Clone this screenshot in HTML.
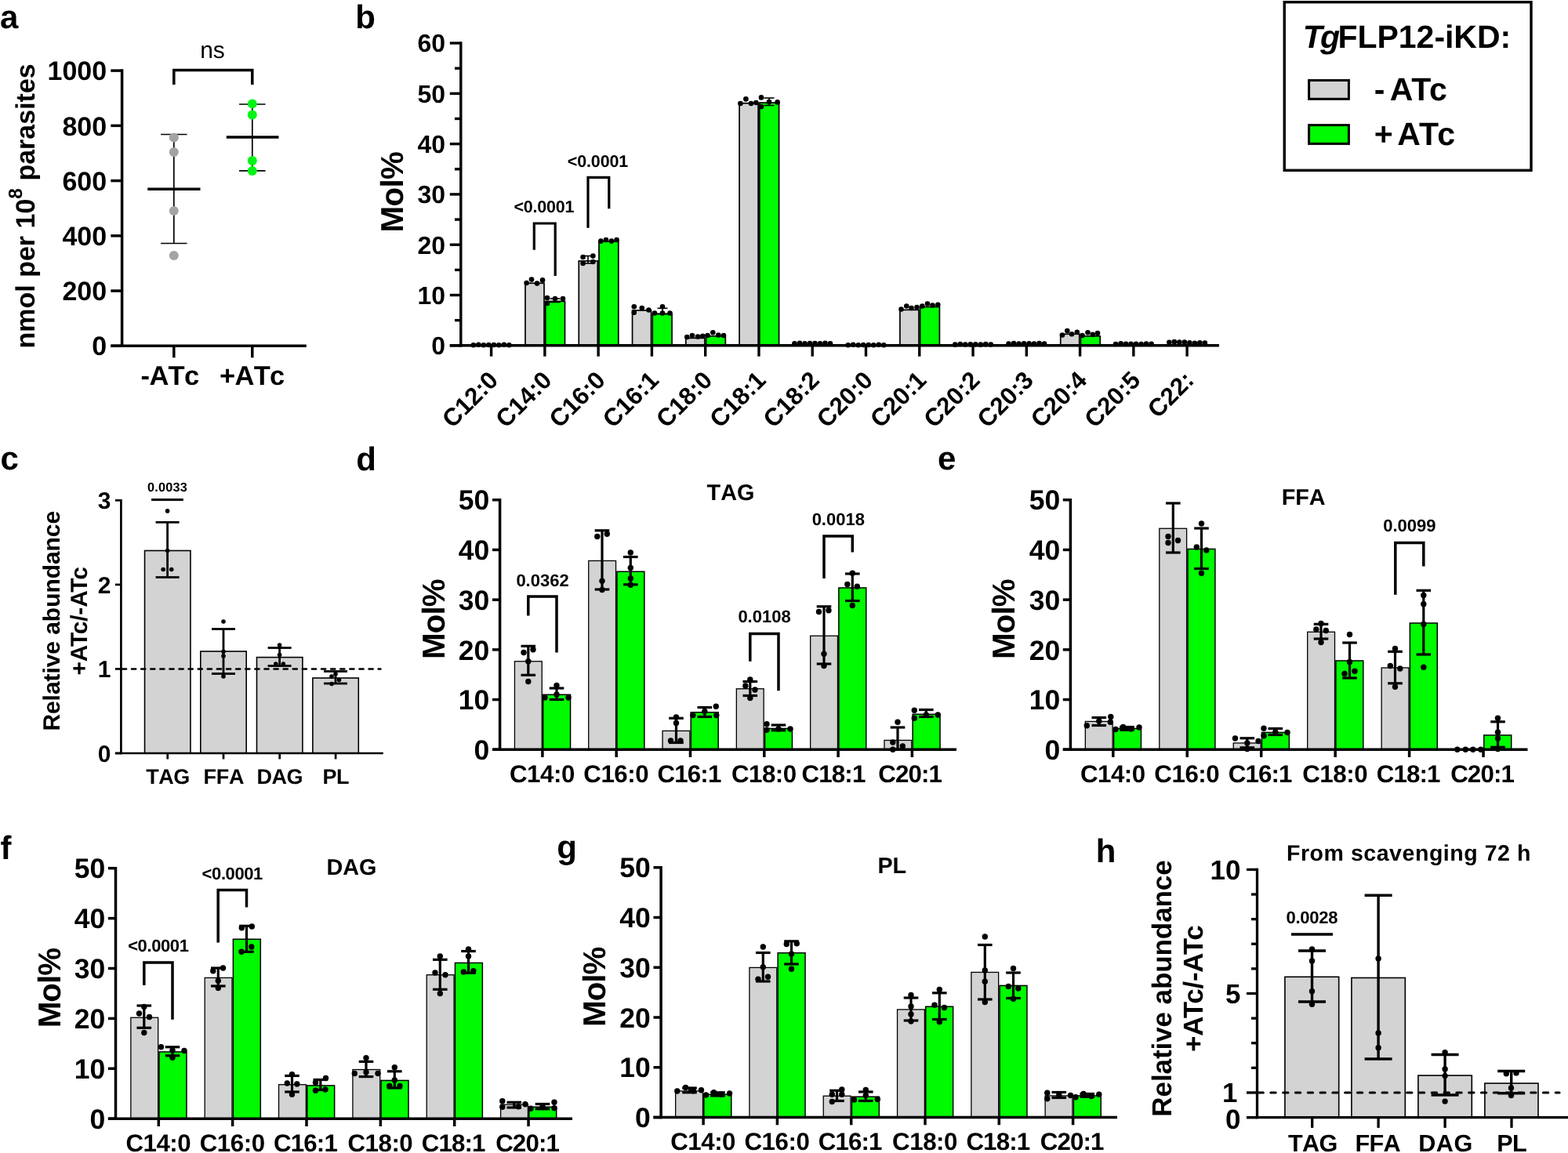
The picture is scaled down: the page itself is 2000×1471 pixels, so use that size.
<!DOCTYPE html>
<html lang="en">
<head>
<meta charset="utf-8">
<title>TgFLP12-iKD lipid analysis</title>
<style>
html,body{margin:0;padding:0;background:#fff;}
body{width:2000px;height:1471px;overflow:hidden;}
svg{display:block;}
svg text{font-family:'Liberation Sans', Arial, Helvetica, sans-serif;font-weight:bold;fill:#000;text-anchor:start;font-kerning:none;text-rendering:geometricPrecision;}
svg text.s{text-anchor:start;}
svg text.e{text-anchor:end;}
svg text.m{text-anchor:middle;}
svg text.n{font-weight:normal;}
svg text.k{font-kerning:normal;}
svg text.i{font-style:italic;}
svg line, svg path{stroke:#000;}
svg circle{stroke:none;}
</style>
</head>
<body>
<svg width="2000" height="1471" viewBox="0 0 2000 1471">
<rect x="0" y="0" width="2000" height="1471" fill="#fff" stroke="none"/>
<text x="-0.1" y="35.9" font-size="42">a</text>
<text x="453.3" y="35.9" font-size="42">b</text>
<text x="0.5" y="599.3" font-size="42">c</text>
<text x="454.3" y="599.5" font-size="42">d</text>
<text x="1195.9" y="599.2" font-size="42">e</text>
<text x="0.6" y="1096.2" font-size="42">f</text>
<text x="710.25" y="1095.3" font-size="42">g</text>
<text x="1397.75" y="1100" font-size="42">h</text>
<line x1="155.6" y1="88.35" x2="155.6" y2="443.05" stroke-width="3.5"/>
<line x1="141.3" y1="441.3" x2="390.8" y2="441.3" stroke-width="3.5"/>
<line x1="141.3" y1="441.3" x2="155.6" y2="441.3" stroke-width="3.5"/>
<line x1="141.3" y1="371.06" x2="155.6" y2="371.06" stroke-width="3.5"/>
<line x1="141.3" y1="300.82" x2="155.6" y2="300.82" stroke-width="3.5"/>
<line x1="141.3" y1="230.58" x2="155.6" y2="230.58" stroke-width="3.5"/>
<line x1="141.3" y1="160.34" x2="155.6" y2="160.34" stroke-width="3.5"/>
<line x1="141.3" y1="90.1" x2="155.6" y2="90.1" stroke-width="3.5"/>
<text x="117.2" y="453.47" font-size="34">0</text>
<text x="79.38" y="383.23" font-size="34">200</text>
<text x="79.38" y="312.99" font-size="34">400</text>
<text x="79.38" y="242.75" font-size="34">600</text>
<text x="79.38" y="172.51" font-size="34">800</text>
<text x="60.47" y="102.27" font-size="34">1000</text>
<line x1="221.8" y1="441.3" x2="221.8" y2="456.3" stroke-width="3.5"/>
<line x1="321.8" y1="441.3" x2="321.8" y2="456.3" stroke-width="3.5"/>
<text x="179.6" y="491" font-size="34.5" letter-spacing="-0.69">-ATc</text>
<text x="280" y="491" font-size="34.5" letter-spacing="-0.68">+ATc</text>
<text x="44" y="444.5" font-size="34" transform="rotate(-90 44 444.5)">nmol per 10<tspan font-size="24.5" dy="-15.8">8</tspan><tspan dy="15.8"> parasites</tspan></text>
<path d="M221.8 108 V89.5 H321.8 V108" fill="none" stroke-width="3.5"/>
<text x="255.16" y="73.8" font-size="30" class="n">ns</text>
<line x1="221.8" y1="171.5" x2="221.8" y2="310.5" stroke-width="1.7"/>
<line x1="205.05" y1="171.5" x2="238.55" y2="171.5" stroke-width="1.7"/>
<line x1="205.05" y1="310.5" x2="238.55" y2="310.5" stroke-width="1.7"/>
<line x1="188.3" y1="241.3" x2="255.5" y2="241.3" stroke-width="3.5"/>
<circle cx="221.8" cy="175.5" r="6" fill="#a3a3a6"/>
<circle cx="221.8" cy="194" r="6" fill="#a3a3a6"/>
<circle cx="221.8" cy="269" r="6" fill="#a3a3a6"/>
<circle cx="221.8" cy="326" r="6" fill="#a3a3a6"/>
<line x1="321.8" y1="133" x2="321.8" y2="217.8" stroke-width="1.7"/>
<line x1="305.05" y1="133" x2="338.55" y2="133" stroke-width="1.7"/>
<line x1="305.05" y1="217.8" x2="338.55" y2="217.8" stroke-width="1.7"/>
<line x1="288.8" y1="175" x2="355.5" y2="175" stroke-width="3.5"/>
<circle cx="321.8" cy="132.5" r="6" fill="#00f514"/>
<circle cx="321.8" cy="146.5" r="6" fill="#00f514"/>
<circle cx="321.8" cy="205" r="6" fill="#00f514"/>
<circle cx="321.8" cy="218" r="6" fill="#00f514"/>
<rect x="670.02" y="361.28" width="24" height="79.53" fill="#d3d3d3" stroke="#000" stroke-width="1.7"/>
<rect x="695.72" y="384.42" width="24.8" height="56.38" fill="#00fa00" stroke="#000" stroke-width="1.7"/>
<rect x="738.29" y="332.98" width="24" height="107.82" fill="#d3d3d3" stroke="#000" stroke-width="1.7"/>
<rect x="763.99" y="307.91" width="24.8" height="132.89" fill="#00fa00" stroke="#000" stroke-width="1.7"/>
<rect x="806.56" y="396" width="24" height="44.8" fill="#d3d3d3" stroke="#000" stroke-width="1.7"/>
<rect x="832.26" y="400.5" width="24.8" height="40.3" fill="#00fa00" stroke="#000" stroke-width="1.7"/>
<rect x="874.83" y="431.36" width="24" height="9.44" fill="#d3d3d3" stroke="#000" stroke-width="1.7"/>
<rect x="900.53" y="428.79" width="24.8" height="12.01" fill="#00fa00" stroke="#000" stroke-width="1.7"/>
<rect x="943.1" y="131.72" width="24" height="309.08" fill="#d3d3d3" stroke="#000" stroke-width="1.7"/>
<rect x="968.8" y="131.08" width="24.8" height="309.72" fill="#00fa00" stroke="#000" stroke-width="1.7"/>
<rect x="1147.91" y="395.35" width="24" height="45.45" fill="#d3d3d3" stroke="#000" stroke-width="1.7"/>
<rect x="1173.61" y="391.5" width="24.8" height="49.3" fill="#00fa00" stroke="#000" stroke-width="1.7"/>
<rect x="1352.72" y="426.22" width="24" height="14.58" fill="#d3d3d3" stroke="#000" stroke-width="1.7"/>
<rect x="1378.42" y="428.79" width="24.8" height="12.01" fill="#00fa00" stroke="#000" stroke-width="1.7"/>
<line x1="587.8" y1="53.3" x2="587.8" y2="442.5" stroke-width="3.4"/>
<line x1="573.8" y1="440.8" x2="1555" y2="440.8" stroke-width="3.4"/>
<line x1="573.8" y1="440.8" x2="587.8" y2="440.8" stroke-width="3.4"/>
<line x1="573.8" y1="376.5" x2="587.8" y2="376.5" stroke-width="3.4"/>
<line x1="573.8" y1="312.2" x2="587.8" y2="312.2" stroke-width="3.4"/>
<line x1="573.8" y1="247.9" x2="587.8" y2="247.9" stroke-width="3.4"/>
<line x1="573.8" y1="183.6" x2="587.8" y2="183.6" stroke-width="3.4"/>
<line x1="573.8" y1="119.3" x2="587.8" y2="119.3" stroke-width="3.4"/>
<line x1="573.8" y1="55" x2="587.8" y2="55" stroke-width="3.4"/>
<line x1="580" y1="408.65" x2="587.8" y2="408.65" stroke-width="3.4"/>
<line x1="580" y1="344.35" x2="587.8" y2="344.35" stroke-width="3.4"/>
<line x1="580" y1="280.05" x2="587.8" y2="280.05" stroke-width="3.4"/>
<line x1="580" y1="215.75" x2="587.8" y2="215.75" stroke-width="3.4"/>
<line x1="580" y1="151.45" x2="587.8" y2="151.45" stroke-width="3.4"/>
<line x1="580" y1="87.15" x2="587.8" y2="87.15" stroke-width="3.4"/>
<text x="550.3" y="452.26" font-size="32">0</text>
<text x="532.5" y="387.96" font-size="32">10</text>
<text x="532.5" y="323.66" font-size="32">20</text>
<text x="532.5" y="259.36" font-size="32">30</text>
<text x="532.5" y="195.06" font-size="32">40</text>
<text x="532.5" y="130.76" font-size="32">50</text>
<text x="532.5" y="66.46" font-size="32">60</text>
<text x="514" y="296.4" font-size="40.4" letter-spacing="-0.71" transform="rotate(-90 514 296.4)">Mol%</text>
<line x1="626.6" y1="440.8" x2="626.6" y2="454.7" stroke-width="3.4"/>
<text x="637.2" y="486.9" font-size="31.3" class="e" transform="rotate(-45 637.2 486.9)">C12:0</text>
<line x1="694.87" y1="440.8" x2="694.87" y2="454.7" stroke-width="3.4"/>
<text x="705.47" y="486.9" font-size="31.3" class="e" transform="rotate(-45 705.47 486.9)">C14:0</text>
<line x1="763.14" y1="440.8" x2="763.14" y2="454.7" stroke-width="3.4"/>
<text x="773.74" y="486.9" font-size="31.3" class="e" transform="rotate(-45 773.74 486.9)">C16:0</text>
<line x1="831.41" y1="440.8" x2="831.41" y2="454.7" stroke-width="3.4"/>
<text x="842.01" y="486.9" font-size="31.3" class="e" transform="rotate(-45 842.01 486.9)">C16:1</text>
<line x1="899.68" y1="440.8" x2="899.68" y2="454.7" stroke-width="3.4"/>
<text x="910.28" y="486.9" font-size="31.3" class="e" transform="rotate(-45 910.28 486.9)">C18:0</text>
<line x1="967.95" y1="440.8" x2="967.95" y2="454.7" stroke-width="3.4"/>
<text x="978.55" y="486.9" font-size="31.3" class="e" transform="rotate(-45 978.55 486.9)">C18:1</text>
<line x1="1036.22" y1="440.8" x2="1036.22" y2="454.7" stroke-width="3.4"/>
<text x="1046.82" y="486.9" font-size="31.3" class="e" transform="rotate(-45 1046.82 486.9)">C18:2</text>
<line x1="1104.49" y1="440.8" x2="1104.49" y2="454.7" stroke-width="3.4"/>
<text x="1115.09" y="486.9" font-size="31.3" class="e" transform="rotate(-45 1115.09 486.9)">C20:0</text>
<line x1="1172.76" y1="440.8" x2="1172.76" y2="454.7" stroke-width="3.4"/>
<text x="1183.36" y="486.9" font-size="31.3" class="e" transform="rotate(-45 1183.36 486.9)">C20:1</text>
<line x1="1241.03" y1="440.8" x2="1241.03" y2="454.7" stroke-width="3.4"/>
<text x="1251.63" y="486.9" font-size="31.3" class="e" transform="rotate(-45 1251.63 486.9)">C20:2</text>
<line x1="1309.3" y1="440.8" x2="1309.3" y2="454.7" stroke-width="3.4"/>
<text x="1319.9" y="486.9" font-size="31.3" class="e" transform="rotate(-45 1319.9 486.9)">C20:3</text>
<line x1="1377.57" y1="440.8" x2="1377.57" y2="454.7" stroke-width="3.4"/>
<text x="1388.17" y="486.9" font-size="31.3" class="e" transform="rotate(-45 1388.17 486.9)">C20:4</text>
<line x1="1445.84" y1="440.8" x2="1445.84" y2="454.7" stroke-width="3.4"/>
<text x="1456.44" y="486.9" font-size="31.3" class="e" transform="rotate(-45 1456.44 486.9)">C20:5</text>
<line x1="1514.11" y1="440.8" x2="1514.11" y2="454.7" stroke-width="3.4"/>
<text x="1524.71" y="486.9" font-size="31.3" class="e" transform="rotate(-45 1524.71 486.9)">C22:</text>
<circle cx="603.85" cy="440.28" r="3.3" fill="#000"/>
<circle cx="629.85" cy="439.98" r="3.3" fill="#000"/>
<circle cx="610.35" cy="439.68" r="3.3" fill="#000"/>
<circle cx="636.35" cy="440.28" r="3.3" fill="#000"/>
<circle cx="616.85" cy="440.18" r="3.3" fill="#000"/>
<circle cx="642.85" cy="439.78" r="3.3" fill="#000"/>
<circle cx="623.35" cy="439.98" r="3.3" fill="#000"/>
<circle cx="649.35" cy="440.18" r="3.3" fill="#000"/>
<circle cx="671.6" cy="361" r="3.3" fill="#000"/>
<circle cx="678" cy="356.6" r="3.3" fill="#000"/>
<circle cx="685" cy="361.6" r="3.3" fill="#000"/>
<circle cx="692" cy="357.4" r="3.3" fill="#000"/>
<circle cx="698" cy="380" r="3.3" fill="#000"/>
<circle cx="698" cy="387" r="3.3" fill="#000"/>
<circle cx="708" cy="381" r="3.3" fill="#000"/>
<circle cx="718" cy="381" r="3.3" fill="#000"/>
<circle cx="743.6" cy="328" r="3.3" fill="#000"/>
<circle cx="743.6" cy="336" r="3.3" fill="#000"/>
<circle cx="756.4" cy="326.6" r="3.3" fill="#000"/>
<circle cx="756.4" cy="334" r="3.3" fill="#000"/>
<circle cx="766.4" cy="307.6" r="3.3" fill="#000"/>
<circle cx="773" cy="306" r="3.3" fill="#000"/>
<circle cx="780" cy="307.6" r="3.3" fill="#000"/>
<circle cx="786.6" cy="306" r="3.3" fill="#000"/>
<circle cx="808.8" cy="391.3" r="3.3" fill="#000"/>
<circle cx="808.8" cy="398.8" r="3.3" fill="#000"/>
<circle cx="818.8" cy="393" r="3.3" fill="#000"/>
<circle cx="827.5" cy="395.5" r="3.3" fill="#000"/>
<circle cx="835" cy="399.5" r="3.3" fill="#000"/>
<circle cx="845" cy="391.3" r="3.3" fill="#000"/>
<circle cx="845" cy="399.5" r="3.3" fill="#000"/>
<circle cx="854.5" cy="399.5" r="3.3" fill="#000"/>
<circle cx="876.3" cy="430" r="3.3" fill="#000"/>
<circle cx="883" cy="428" r="3.3" fill="#000"/>
<circle cx="890" cy="429.5" r="3.3" fill="#000"/>
<circle cx="896.3" cy="428.8" r="3.3" fill="#000"/>
<circle cx="902.5" cy="428" r="3.3" fill="#000"/>
<circle cx="909.3" cy="424.3" r="3.3" fill="#000"/>
<circle cx="916.3" cy="427.5" r="3.3" fill="#000"/>
<circle cx="923" cy="428" r="3.3" fill="#000"/>
<circle cx="944.4" cy="132" r="3.3" fill="#000"/>
<circle cx="951.4" cy="126.4" r="3.3" fill="#000"/>
<circle cx="958" cy="132" r="3.3" fill="#000"/>
<circle cx="964.4" cy="131" r="3.3" fill="#000"/>
<circle cx="971" cy="124.4" r="3.3" fill="#000"/>
<circle cx="971" cy="136" r="3.3" fill="#000"/>
<circle cx="981" cy="130" r="3.3" fill="#000"/>
<circle cx="991.6" cy="130.4" r="3.3" fill="#000"/>
<circle cx="1013.47" cy="438.35" r="3.3" fill="#000"/>
<circle cx="1039.47" cy="438.05" r="3.3" fill="#000"/>
<circle cx="1019.97" cy="437.75" r="3.3" fill="#000"/>
<circle cx="1045.97" cy="438.35" r="3.3" fill="#000"/>
<circle cx="1026.47" cy="438.25" r="3.3" fill="#000"/>
<circle cx="1052.47" cy="437.85" r="3.3" fill="#000"/>
<circle cx="1032.97" cy="438.05" r="3.3" fill="#000"/>
<circle cx="1058.97" cy="438.25" r="3.3" fill="#000"/>
<circle cx="1081.74" cy="440.28" r="3.3" fill="#000"/>
<circle cx="1107.74" cy="439.98" r="3.3" fill="#000"/>
<circle cx="1088.24" cy="439.68" r="3.3" fill="#000"/>
<circle cx="1114.24" cy="440.28" r="3.3" fill="#000"/>
<circle cx="1094.74" cy="440.18" r="3.3" fill="#000"/>
<circle cx="1120.74" cy="439.78" r="3.3" fill="#000"/>
<circle cx="1101.24" cy="439.98" r="3.3" fill="#000"/>
<circle cx="1127.24" cy="440.18" r="3.3" fill="#000"/>
<circle cx="1149.5" cy="394.5" r="3.3" fill="#000"/>
<circle cx="1156.3" cy="390.5" r="3.3" fill="#000"/>
<circle cx="1162.5" cy="393" r="3.3" fill="#000"/>
<circle cx="1169.5" cy="392" r="3.3" fill="#000"/>
<circle cx="1176.3" cy="390.5" r="3.3" fill="#000"/>
<circle cx="1183" cy="387.5" r="3.3" fill="#000"/>
<circle cx="1189.5" cy="389.5" r="3.3" fill="#000"/>
<circle cx="1196.3" cy="388.8" r="3.3" fill="#000"/>
<circle cx="1218.28" cy="439.64" r="3.3" fill="#000"/>
<circle cx="1244.28" cy="439.34" r="3.3" fill="#000"/>
<circle cx="1224.78" cy="439.04" r="3.3" fill="#000"/>
<circle cx="1250.78" cy="439.64" r="3.3" fill="#000"/>
<circle cx="1231.28" cy="439.54" r="3.3" fill="#000"/>
<circle cx="1257.28" cy="439.14" r="3.3" fill="#000"/>
<circle cx="1237.78" cy="439.34" r="3.3" fill="#000"/>
<circle cx="1263.78" cy="439.54" r="3.3" fill="#000"/>
<circle cx="1286.55" cy="438.67" r="3.3" fill="#000"/>
<circle cx="1312.55" cy="438.37" r="3.3" fill="#000"/>
<circle cx="1293.05" cy="438.07" r="3.3" fill="#000"/>
<circle cx="1319.05" cy="438.67" r="3.3" fill="#000"/>
<circle cx="1299.55" cy="438.57" r="3.3" fill="#000"/>
<circle cx="1325.55" cy="438.17" r="3.3" fill="#000"/>
<circle cx="1306.05" cy="438.37" r="3.3" fill="#000"/>
<circle cx="1332.05" cy="438.57" r="3.3" fill="#000"/>
<circle cx="1355" cy="427.5" r="3.3" fill="#000"/>
<circle cx="1361.3" cy="422" r="3.3" fill="#000"/>
<circle cx="1367" cy="426.3" r="3.3" fill="#000"/>
<circle cx="1373.8" cy="423.8" r="3.3" fill="#000"/>
<circle cx="1380.5" cy="428" r="3.3" fill="#000"/>
<circle cx="1387.5" cy="424.3" r="3.3" fill="#000"/>
<circle cx="1393.8" cy="426.8" r="3.3" fill="#000"/>
<circle cx="1400" cy="425" r="3.3" fill="#000"/>
<circle cx="1423.09" cy="438.99" r="3.3" fill="#000"/>
<circle cx="1449.09" cy="438.69" r="3.3" fill="#000"/>
<circle cx="1429.59" cy="438.39" r="3.3" fill="#000"/>
<circle cx="1455.59" cy="438.99" r="3.3" fill="#000"/>
<circle cx="1436.09" cy="438.89" r="3.3" fill="#000"/>
<circle cx="1462.09" cy="438.49" r="3.3" fill="#000"/>
<circle cx="1442.59" cy="438.69" r="3.3" fill="#000"/>
<circle cx="1468.59" cy="438.89" r="3.3" fill="#000"/>
<circle cx="1491.36" cy="436.74" r="3.3" fill="#000"/>
<circle cx="1517.36" cy="437.41" r="3.3" fill="#000"/>
<circle cx="1497.86" cy="436.14" r="3.3" fill="#000"/>
<circle cx="1523.86" cy="437.71" r="3.3" fill="#000"/>
<circle cx="1504.36" cy="436.64" r="3.3" fill="#000"/>
<circle cx="1530.36" cy="437.21" r="3.3" fill="#000"/>
<circle cx="1510.86" cy="436.44" r="3.3" fill="#000"/>
<circle cx="1536.86" cy="437.61" r="3.3" fill="#000"/>
<line x1="750" y1="326.5" x2="750" y2="336" stroke-width="1.6"/>
<line x1="743.5" y1="326.5" x2="756.5" y2="326.5" stroke-width="1.6"/>
<line x1="743.5" y1="336" x2="756.5" y2="336" stroke-width="1.6"/>
<line x1="981" y1="125" x2="981" y2="134.5" stroke-width="1.6"/>
<line x1="974.5" y1="125" x2="987.5" y2="125" stroke-width="1.6"/>
<line x1="974.5" y1="134.5" x2="987.5" y2="134.5" stroke-width="1.6"/>
<line x1="845" y1="393.3" x2="845" y2="400.5" stroke-width="1.6"/>
<line x1="838.5" y1="393.3" x2="851.5" y2="393.3" stroke-width="1.6"/>
<line x1="838.5" y1="400.5" x2="851.5" y2="400.5" stroke-width="1.6"/>
<line x1="708" y1="381" x2="708" y2="385.5" stroke-width="1.6"/>
<line x1="701.5" y1="381" x2="714.5" y2="381" stroke-width="1.6"/>
<line x1="701.5" y1="385.5" x2="714.5" y2="385.5" stroke-width="1.6"/>
<path d="M681.3 318.8 V285 H708.2 V352" fill="none" stroke-width="3.2"/>
<text x="655.5" y="271.3" font-size="21.5" letter-spacing="-0.23">&lt;0.0001</text>
<path d="M750 290.8 V226.3 H776.8 V266.3" fill="none" stroke-width="3.2"/>
<text x="723.8" y="212.5" font-size="21.5" letter-spacing="-0.14">&lt;0.0001</text>
<rect x="1638.25" y="2.7" width="314.75" height="214.6" fill="#fff" stroke="#000" stroke-width="3.4"/>
<text x="1661.75" y="61.3" font-size="41" class="i">T</text>
<text x="1684.1" y="61.3" font-size="41" class="i">g</text>
<text x="1706.5" y="61.3" font-size="41" class="k" letter-spacing="-0.03">FLP12-iKD:</text>
<rect x="1669.6" y="102.5" width="50.8" height="23.8" fill="#d3d3d3" stroke="#000" stroke-width="3"/>
<rect x="1669.6" y="159.6" width="50.8" height="23.8" fill="#00fa00" stroke="#000" stroke-width="3"/>
<text x="1752.75" y="127.8" font-size="41">-</text>
<text x="1772.75" y="127.8" font-size="41" class="k" letter-spacing="0.84">ATc</text>
<text x="1752.75" y="185" font-size="41">+</text>
<text x="1782.2" y="185" font-size="41" class="k" letter-spacing="1.24">ATc</text>
<rect x="184.55" y="702.5" width="58.4" height="258.5" fill="#d3d3d3" stroke="#000" stroke-width="1.6"/>
<rect x="255.8" y="831" width="58.4" height="130" fill="#d3d3d3" stroke="#000" stroke-width="1.6"/>
<rect x="327.5" y="838.6" width="58.4" height="122.4" fill="#d3d3d3" stroke="#000" stroke-width="1.6"/>
<rect x="398.9" y="865" width="58.4" height="96" fill="#d3d3d3" stroke="#000" stroke-width="1.6"/>
<line x1="154.4" y1="637" x2="154.4" y2="962.35" stroke-width="2.7"/>
<line x1="146.9" y1="961" x2="154.4" y2="961" stroke-width="2.7"/>
<line x1="146.9" y1="853.45" x2="154.4" y2="853.45" stroke-width="2.7"/>
<line x1="146.9" y1="745.9" x2="154.4" y2="745.9" stroke-width="2.7"/>
<line x1="146.9" y1="638.35" x2="154.4" y2="638.35" stroke-width="2.7"/>
<text x="124.7" y="971.74" font-size="30">0</text>
<text x="124.7" y="864.19" font-size="30">1</text>
<text x="124.7" y="756.64" font-size="30">2</text>
<text x="124.7" y="649.09" font-size="30">3</text>
<line x1="146.9" y1="961" x2="488.8" y2="961" stroke-width="2.7"/>
<line x1="213.75" y1="961" x2="213.75" y2="968.5" stroke-width="2.7"/>
<line x1="285" y1="961" x2="285" y2="968.5" stroke-width="2.7"/>
<line x1="356.7" y1="961" x2="356.7" y2="968.5" stroke-width="2.7"/>
<line x1="428.1" y1="961" x2="428.1" y2="968.5" stroke-width="2.7"/>
<text x="186.25" y="1000" font-size="27" letter-spacing="-0.5">TAG</text>
<text x="259.6" y="1000" font-size="27" letter-spacing="-0.29">FFA</text>
<text x="327.5" y="1000" font-size="27" letter-spacing="-0.45">DAG</text>
<text x="411.5" y="1000" font-size="27" letter-spacing="-0.51">PL</text>
<line x1="155.9" y1="853.45" x2="485.5" y2="853.45" stroke-width="2.5" stroke-dasharray="5.2 6.9" stroke-linecap="round"/>
<line x1="213.6" y1="666.3" x2="213.6" y2="736.5" stroke-width="2.8"/>
<line x1="198.6" y1="666.3" x2="228.6" y2="666.3" stroke-width="2.8"/>
<line x1="198.6" y1="736.5" x2="228.6" y2="736.5" stroke-width="2.8"/>
<line x1="285" y1="802.5" x2="285" y2="859.5" stroke-width="2.8"/>
<line x1="270" y1="802.5" x2="300" y2="802.5" stroke-width="2.8"/>
<line x1="270" y1="859.5" x2="300" y2="859.5" stroke-width="2.8"/>
<line x1="356.6" y1="826.5" x2="356.6" y2="849.5" stroke-width="2.8"/>
<line x1="341.6" y1="826.5" x2="371.6" y2="826.5" stroke-width="2.8"/>
<line x1="341.6" y1="849.5" x2="371.6" y2="849.5" stroke-width="2.8"/>
<line x1="428" y1="856.5" x2="428" y2="872" stroke-width="2.8"/>
<line x1="413" y1="856.5" x2="443" y2="856.5" stroke-width="2.8"/>
<line x1="413" y1="872" x2="443" y2="872" stroke-width="2.8"/>
<circle cx="213.6" cy="651.9" r="2.8" fill="#000"/>
<circle cx="213.6" cy="702.5" r="2.8" fill="#000"/>
<circle cx="208.2" cy="726.5" r="2.8" fill="#000"/>
<circle cx="218.7" cy="726.5" r="2.8" fill="#000"/>
<circle cx="285" cy="793" r="2.8" fill="#000"/>
<circle cx="285" cy="831.3" r="2.8" fill="#000"/>
<circle cx="285" cy="837" r="2.8" fill="#000"/>
<circle cx="285" cy="863" r="2.8" fill="#000"/>
<circle cx="356.6" cy="823" r="2.8" fill="#000"/>
<circle cx="356.6" cy="835.5" r="2.8" fill="#000"/>
<circle cx="351.8" cy="847" r="2.8" fill="#000"/>
<circle cx="361.3" cy="847" r="2.8" fill="#000"/>
<circle cx="423" cy="863" r="2.8" fill="#000"/>
<circle cx="432.5" cy="867.5" r="2.8" fill="#000"/>
<circle cx="423" cy="872.5" r="2.8" fill="#000"/>
<circle cx="428" cy="860" r="2.8" fill="#000"/>
<line x1="193.1" y1="637.5" x2="233.8" y2="637.5" stroke-width="3"/>
<text x="188.1" y="627" font-size="16.3" letter-spacing="0.18">0.0033</text>
<text x="76.4" y="932.6" font-size="30" class="k" letter-spacing="-0.06" transform="rotate(-90 76.4 932.6)">Relative abundance</text>
<text x="111.3" y="861.6" font-size="30" class="k" letter-spacing="-0.22" transform="rotate(-90 111.3 861.6)">+ATc/-ATc</text>
<rect x="656.45" y="843.75" width="34.8" height="112.5" fill="#d3d3d3" stroke="#000" stroke-width="1.3"/>
<rect x="692.65" y="886.25" width="34.9" height="70" fill="#00fa00" stroke="#000" stroke-width="1.5"/>
<rect x="750.75" y="715.45" width="34.8" height="240.8" fill="#d3d3d3" stroke="#000" stroke-width="1.3"/>
<rect x="786.95" y="729.25" width="34.9" height="227" fill="#00fa00" stroke="#000" stroke-width="1.5"/>
<rect x="845.05" y="932.45" width="34.8" height="23.8" fill="#d3d3d3" stroke="#000" stroke-width="1.3"/>
<rect x="881.25" y="908.75" width="34.9" height="47.5" fill="#00fa00" stroke="#000" stroke-width="1.5"/>
<rect x="939.35" y="878.75" width="34.8" height="77.5" fill="#d3d3d3" stroke="#000" stroke-width="1.3"/>
<rect x="975.55" y="929.45" width="34.9" height="26.8" fill="#00fa00" stroke="#000" stroke-width="1.5"/>
<rect x="1033.65" y="811.25" width="34.8" height="145" fill="#d3d3d3" stroke="#000" stroke-width="1.3"/>
<rect x="1069.85" y="749.95" width="34.9" height="206.3" fill="#00fa00" stroke="#000" stroke-width="1.5"/>
<rect x="1127.95" y="944.45" width="34.8" height="11.8" fill="#d3d3d3" stroke="#000" stroke-width="1.3"/>
<rect x="1164.15" y="911.25" width="34.9" height="45" fill="#00fa00" stroke="#000" stroke-width="1.5"/>
<line x1="637.6" y1="636" x2="637.6" y2="958" stroke-width="3.5"/>
<line x1="628" y1="956.25" x2="1220" y2="956.25" stroke-width="3.5"/>
<line x1="628" y1="956.25" x2="637.6" y2="956.25" stroke-width="3.5"/>
<line x1="628" y1="892.55" x2="637.6" y2="892.55" stroke-width="3.5"/>
<line x1="628" y1="828.85" x2="637.6" y2="828.85" stroke-width="3.5"/>
<line x1="628" y1="765.15" x2="637.6" y2="765.15" stroke-width="3.5"/>
<line x1="628" y1="701.45" x2="637.6" y2="701.45" stroke-width="3.5"/>
<line x1="628" y1="637.75" x2="637.6" y2="637.75" stroke-width="3.5"/>
<text x="604.6" y="968.96" font-size="35.5">0</text>
<text x="584.86" y="905.26" font-size="35.5">10</text>
<text x="584.86" y="841.56" font-size="35.5">20</text>
<text x="584.86" y="777.86" font-size="35.5">30</text>
<text x="584.86" y="714.16" font-size="35.5">40</text>
<text x="584.86" y="650.46" font-size="35.5">50</text>
<text x="566.7" y="840.9" font-size="40.4" letter-spacing="-0.98" transform="rotate(-90 566.7 840.9)">Mol%</text>
<line x1="691.9" y1="956.25" x2="691.9" y2="966.05" stroke-width="3.5"/>
<text x="650" y="998.15" font-size="31.3" letter-spacing="-0.48">C14:0</text>
<line x1="786.2" y1="956.25" x2="786.2" y2="966.05" stroke-width="3.5"/>
<text x="744.3" y="998.15" font-size="31.3" letter-spacing="-0.48">C16:0</text>
<line x1="880.5" y1="956.25" x2="880.5" y2="966.05" stroke-width="3.5"/>
<text x="838.6" y="998.15" font-size="31.3" letter-spacing="-0.88">C16:1</text>
<line x1="974.8" y1="956.25" x2="974.8" y2="966.05" stroke-width="3.5"/>
<text x="932.9" y="998.15" font-size="31.3" letter-spacing="-0.48">C18:0</text>
<line x1="1069.1" y1="956.25" x2="1069.1" y2="966.05" stroke-width="3.5"/>
<text x="1022.6" y="998.15" font-size="31.3" letter-spacing="-0.88">C18:1</text>
<line x1="1163.4" y1="956.25" x2="1163.4" y2="966.05" stroke-width="3.5"/>
<text x="1120.3" y="998.15" font-size="31.3" letter-spacing="-0.88">C20:1</text>
<text x="901.56" y="637.9" font-size="28.8">TAG</text>
<line x1="673.8" y1="824.3" x2="673.8" y2="861.3" stroke-width="3.2"/>
<line x1="664.5" y1="824.3" x2="683.1" y2="824.3" stroke-width="3.2"/>
<line x1="664.5" y1="861.3" x2="683.1" y2="861.3" stroke-width="3.2"/>
<line x1="710" y1="878" x2="710" y2="892.5" stroke-width="3.2"/>
<line x1="700.7" y1="878" x2="719.3" y2="878" stroke-width="3.2"/>
<line x1="700.7" y1="892.5" x2="719.3" y2="892.5" stroke-width="3.2"/>
<circle cx="668" cy="832.5" r="3.7" fill="#000"/>
<circle cx="680" cy="828.8" r="3.7" fill="#000"/>
<circle cx="673.8" cy="843.8" r="3.7" fill="#000"/>
<circle cx="673.8" cy="869.5" r="3.7" fill="#000"/>
<circle cx="710" cy="874.5" r="3.7" fill="#000"/>
<circle cx="695" cy="890" r="3.7" fill="#000"/>
<circle cx="725" cy="890" r="3.7" fill="#000"/>
<circle cx="710" cy="886" r="3.7" fill="#000"/>
<line x1="768" y1="676.8" x2="768" y2="752" stroke-width="3.2"/>
<line x1="758.7" y1="676.8" x2="777.3" y2="676.8" stroke-width="3.2"/>
<line x1="758.7" y1="752" x2="777.3" y2="752" stroke-width="3.2"/>
<line x1="804.3" y1="710.5" x2="804.3" y2="745.8" stroke-width="3.2"/>
<line x1="795" y1="710.5" x2="813.6" y2="710.5" stroke-width="3.2"/>
<line x1="795" y1="745.8" x2="813.6" y2="745.8" stroke-width="3.2"/>
<circle cx="761.8" cy="684.5" r="3.7" fill="#000"/>
<circle cx="774.3" cy="681.3" r="3.7" fill="#000"/>
<circle cx="768" cy="741.3" r="3.7" fill="#000"/>
<circle cx="768" cy="752.5" r="3.7" fill="#000"/>
<circle cx="804.3" cy="705" r="3.7" fill="#000"/>
<circle cx="804.3" cy="724.5" r="3.7" fill="#000"/>
<circle cx="804.3" cy="738" r="3.7" fill="#000"/>
<circle cx="804.3" cy="746.3" r="3.7" fill="#000"/>
<line x1="862.5" y1="916.3" x2="862.5" y2="947.5" stroke-width="3.2"/>
<line x1="853.2" y1="916.3" x2="871.8" y2="916.3" stroke-width="3.2"/>
<line x1="853.2" y1="947.5" x2="871.8" y2="947.5" stroke-width="3.2"/>
<line x1="898.8" y1="902.5" x2="898.8" y2="914.5" stroke-width="3.2"/>
<line x1="889.5" y1="902.5" x2="908.1" y2="902.5" stroke-width="3.2"/>
<line x1="889.5" y1="914.5" x2="908.1" y2="914.5" stroke-width="3.2"/>
<circle cx="862.5" cy="915" r="3.7" fill="#000"/>
<circle cx="862.5" cy="922.5" r="3.7" fill="#000"/>
<circle cx="855.5" cy="945" r="3.7" fill="#000"/>
<circle cx="868" cy="945" r="3.7" fill="#000"/>
<circle cx="913.3" cy="901.3" r="3.7" fill="#000"/>
<circle cx="898.8" cy="907.5" r="3.7" fill="#000"/>
<circle cx="883.8" cy="912.5" r="3.7" fill="#000"/>
<circle cx="913.8" cy="912.5" r="3.7" fill="#000"/>
<line x1="956.8" y1="869.5" x2="956.8" y2="887.5" stroke-width="3.2"/>
<line x1="947.5" y1="869.5" x2="966.1" y2="869.5" stroke-width="3.2"/>
<line x1="947.5" y1="887.5" x2="966.1" y2="887.5" stroke-width="3.2"/>
<line x1="993" y1="925" x2="993" y2="931.8" stroke-width="3.2"/>
<line x1="983.7" y1="925" x2="1002.3" y2="925" stroke-width="3.2"/>
<line x1="983.7" y1="931.8" x2="1002.3" y2="931.8" stroke-width="3.2"/>
<circle cx="956.8" cy="867" r="3.7" fill="#000"/>
<circle cx="950.8" cy="875" r="3.7" fill="#000"/>
<circle cx="963" cy="880" r="3.7" fill="#000"/>
<circle cx="956.8" cy="890.5" r="3.7" fill="#000"/>
<circle cx="978" cy="923.8" r="3.7" fill="#000"/>
<circle cx="978" cy="931.3" r="3.7" fill="#000"/>
<circle cx="1008" cy="930" r="3.7" fill="#000"/>
<circle cx="993" cy="930" r="3.7" fill="#000"/>
<line x1="1051" y1="773.8" x2="1051" y2="847" stroke-width="3.2"/>
<line x1="1041.7" y1="773.8" x2="1060.3" y2="773.8" stroke-width="3.2"/>
<line x1="1041.7" y1="847" x2="1060.3" y2="847" stroke-width="3.2"/>
<line x1="1087.3" y1="732" x2="1087.3" y2="766.5" stroke-width="3.2"/>
<line x1="1078" y1="732" x2="1096.6" y2="732" stroke-width="3.2"/>
<line x1="1078" y1="766.5" x2="1096.6" y2="766.5" stroke-width="3.2"/>
<circle cx="1044.5" cy="780.5" r="3.7" fill="#000"/>
<circle cx="1057" cy="778.8" r="3.7" fill="#000"/>
<circle cx="1051" cy="834.3" r="3.7" fill="#000"/>
<circle cx="1051" cy="849.5" r="3.7" fill="#000"/>
<circle cx="1087.3" cy="731.3" r="3.7" fill="#000"/>
<circle cx="1080.8" cy="745.5" r="3.7" fill="#000"/>
<circle cx="1093.3" cy="748.3" r="3.7" fill="#000"/>
<circle cx="1087.3" cy="772.5" r="3.7" fill="#000"/>
<line x1="1145" y1="928" x2="1145" y2="956" stroke-width="3.2"/>
<line x1="1135.7" y1="928" x2="1154.3" y2="928" stroke-width="3.2"/>
<line x1="1135.7" y1="956" x2="1154.3" y2="956" stroke-width="3.2"/>
<line x1="1181.3" y1="905.5" x2="1181.3" y2="914.5" stroke-width="3.2"/>
<line x1="1172" y1="905.5" x2="1190.6" y2="905.5" stroke-width="3.2"/>
<line x1="1172" y1="914.5" x2="1190.6" y2="914.5" stroke-width="3.2"/>
<circle cx="1145" cy="921.3" r="3.7" fill="#000"/>
<circle cx="1138.8" cy="947" r="3.7" fill="#000"/>
<circle cx="1151.3" cy="952" r="3.7" fill="#000"/>
<circle cx="1138.8" cy="956.3" r="3.7" fill="#000"/>
<circle cx="1166.3" cy="906.3" r="3.7" fill="#000"/>
<circle cx="1166.3" cy="916.3" r="3.7" fill="#000"/>
<circle cx="1196.3" cy="912" r="3.7" fill="#000"/>
<circle cx="1181.3" cy="912" r="3.7" fill="#000"/>
<path d="M673.8 785.5 V760.9 H710 V832.5" fill="none" stroke-width="3.5"/>
<text x="658.4" y="747.5" font-size="22" letter-spacing="-0.01">0.0362</text>
<path d="M956.8 843.8 V808.5 H993 V881.3" fill="none" stroke-width="3.5"/>
<text x="941.4" y="794" font-size="22" letter-spacing="-0.01">0.0108</text>
<path d="M1051 738 V684 H1087.3 V704.5" fill="none" stroke-width="3.5"/>
<text x="1035.65" y="670.3" font-size="22" letter-spacing="-0.01">0.0018</text>
<rect x="1384.35" y="920.45" width="34.8" height="35.8" fill="#d3d3d3" stroke="#000" stroke-width="1.3"/>
<rect x="1420.55" y="929.45" width="34.9" height="26.8" fill="#00fa00" stroke="#000" stroke-width="1.5"/>
<rect x="1478.8" y="674.25" width="34.8" height="282" fill="#d3d3d3" stroke="#000" stroke-width="1.3"/>
<rect x="1515" y="700.45" width="34.9" height="255.8" fill="#00fa00" stroke="#000" stroke-width="1.5"/>
<rect x="1573.25" y="947.95" width="34.8" height="8.3" fill="#d3d3d3" stroke="#000" stroke-width="1.3"/>
<rect x="1609.45" y="934.45" width="34.9" height="21.8" fill="#00fa00" stroke="#000" stroke-width="1.5"/>
<rect x="1667.7" y="806.25" width="34.8" height="150" fill="#d3d3d3" stroke="#000" stroke-width="1.3"/>
<rect x="1703.9" y="842.95" width="34.9" height="113.3" fill="#00fa00" stroke="#000" stroke-width="1.5"/>
<rect x="1762.15" y="851.95" width="34.8" height="104.3" fill="#d3d3d3" stroke="#000" stroke-width="1.3"/>
<rect x="1798.35" y="794.95" width="34.9" height="161.3" fill="#00fa00" stroke="#000" stroke-width="1.5"/>
<rect x="1892.8" y="937.95" width="34.9" height="18.3" fill="#00fa00" stroke="#000" stroke-width="1.5"/>
<line x1="1365.4" y1="636" x2="1365.4" y2="958" stroke-width="3.5"/>
<line x1="1355.8" y1="956.25" x2="1948.5" y2="956.25" stroke-width="3.5"/>
<line x1="1355.8" y1="956.25" x2="1365.4" y2="956.25" stroke-width="3.5"/>
<line x1="1355.8" y1="892.55" x2="1365.4" y2="892.55" stroke-width="3.5"/>
<line x1="1355.8" y1="828.85" x2="1365.4" y2="828.85" stroke-width="3.5"/>
<line x1="1355.8" y1="765.15" x2="1365.4" y2="765.15" stroke-width="3.5"/>
<line x1="1355.8" y1="701.45" x2="1365.4" y2="701.45" stroke-width="3.5"/>
<line x1="1355.8" y1="637.75" x2="1365.4" y2="637.75" stroke-width="3.5"/>
<text x="1332.4" y="968.96" font-size="35.5">0</text>
<text x="1312.66" y="905.26" font-size="35.5">10</text>
<text x="1312.66" y="841.56" font-size="35.5">20</text>
<text x="1312.66" y="777.86" font-size="35.5">30</text>
<text x="1312.66" y="714.16" font-size="35.5">40</text>
<text x="1312.66" y="650.46" font-size="35.5">50</text>
<text x="1294.3" y="840.9" font-size="40.4" letter-spacing="-0.98" transform="rotate(-90 1294.3 840.9)">Mol%</text>
<line x1="1419.8" y1="956.25" x2="1419.8" y2="966.05" stroke-width="3.5"/>
<text x="1377.9" y="998.15" font-size="31.3" letter-spacing="-0.48">C14:0</text>
<line x1="1514.25" y1="956.25" x2="1514.25" y2="966.05" stroke-width="3.5"/>
<text x="1472.35" y="998.15" font-size="31.3" letter-spacing="-0.48">C16:0</text>
<line x1="1608.7" y1="956.25" x2="1608.7" y2="966.05" stroke-width="3.5"/>
<text x="1566.8" y="998.15" font-size="31.3" letter-spacing="-0.88">C16:1</text>
<line x1="1703.15" y1="956.25" x2="1703.15" y2="966.05" stroke-width="3.5"/>
<text x="1661.25" y="998.15" font-size="31.3" letter-spacing="-0.48">C18:0</text>
<line x1="1797.6" y1="956.25" x2="1797.6" y2="966.05" stroke-width="3.5"/>
<text x="1755.7" y="998.15" font-size="31.3" letter-spacing="-0.88">C18:1</text>
<line x1="1892.05" y1="956.25" x2="1892.05" y2="966.05" stroke-width="3.5"/>
<text x="1850.15" y="998.15" font-size="31.3" letter-spacing="-0.88">C20:1</text>
<text x="1634.66" y="644" font-size="28.8">FFA</text>
<line x1="1401.8" y1="915.5" x2="1401.8" y2="925.5" stroke-width="3.2"/>
<line x1="1392.5" y1="915.5" x2="1411.1" y2="915.5" stroke-width="3.2"/>
<line x1="1392.5" y1="925.5" x2="1411.1" y2="925.5" stroke-width="3.2"/>
<line x1="1437.5" y1="927.5" x2="1437.5" y2="931.3" stroke-width="3.2"/>
<line x1="1428.2" y1="927.5" x2="1446.8" y2="927.5" stroke-width="3.2"/>
<line x1="1428.2" y1="931.3" x2="1446.8" y2="931.3" stroke-width="3.2"/>
<circle cx="1416.8" cy="914.5" r="3.7" fill="#000"/>
<circle cx="1386.3" cy="925.8" r="3.7" fill="#000"/>
<circle cx="1416.3" cy="921.3" r="3.7" fill="#000"/>
<circle cx="1401.8" cy="920" r="3.7" fill="#000"/>
<circle cx="1423" cy="930.5" r="3.7" fill="#000"/>
<circle cx="1432.5" cy="927.5" r="3.7" fill="#000"/>
<circle cx="1442.5" cy="930" r="3.7" fill="#000"/>
<circle cx="1453" cy="928" r="3.7" fill="#000"/>
<line x1="1496.3" y1="642" x2="1496.3" y2="705" stroke-width="3.2"/>
<line x1="1487" y1="642" x2="1505.6" y2="642" stroke-width="3.2"/>
<line x1="1487" y1="705" x2="1505.6" y2="705" stroke-width="3.2"/>
<line x1="1532.5" y1="674" x2="1532.5" y2="725.5" stroke-width="3.2"/>
<line x1="1523.2" y1="674" x2="1541.8" y2="674" stroke-width="3.2"/>
<line x1="1523.2" y1="725.5" x2="1541.8" y2="725.5" stroke-width="3.2"/>
<circle cx="1490" cy="684.5" r="3.7" fill="#000"/>
<circle cx="1490" cy="692.5" r="3.7" fill="#000"/>
<circle cx="1502.5" cy="689.5" r="3.7" fill="#000"/>
<circle cx="1532.5" cy="668" r="3.7" fill="#000"/>
<circle cx="1526.3" cy="698" r="3.7" fill="#000"/>
<circle cx="1538.8" cy="702" r="3.7" fill="#000"/>
<circle cx="1532.5" cy="731.3" r="3.7" fill="#000"/>
<line x1="1590.8" y1="941.8" x2="1590.8" y2="953.8" stroke-width="3.2"/>
<line x1="1581.5" y1="941.8" x2="1600.1" y2="941.8" stroke-width="3.2"/>
<line x1="1581.5" y1="953.8" x2="1600.1" y2="953.8" stroke-width="3.2"/>
<line x1="1626.8" y1="929.5" x2="1626.8" y2="937.5" stroke-width="3.2"/>
<line x1="1617.5" y1="929.5" x2="1636.1" y2="929.5" stroke-width="3.2"/>
<line x1="1617.5" y1="937.5" x2="1636.1" y2="937.5" stroke-width="3.2"/>
<circle cx="1575.5" cy="942" r="3.7" fill="#000"/>
<circle cx="1605" cy="945.5" r="3.7" fill="#000"/>
<circle cx="1590.8" cy="948" r="3.7" fill="#000"/>
<circle cx="1590.8" cy="955.5" r="3.7" fill="#000"/>
<circle cx="1612" cy="929.3" r="3.7" fill="#000"/>
<circle cx="1612" cy="938.8" r="3.7" fill="#000"/>
<circle cx="1642" cy="934.5" r="3.7" fill="#000"/>
<circle cx="1626.8" cy="934" r="3.7" fill="#000"/>
<line x1="1685" y1="796.3" x2="1685" y2="815" stroke-width="3.2"/>
<line x1="1675.7" y1="796.3" x2="1694.3" y2="796.3" stroke-width="3.2"/>
<line x1="1675.7" y1="815" x2="1694.3" y2="815" stroke-width="3.2"/>
<line x1="1721.5" y1="820" x2="1721.5" y2="865" stroke-width="3.2"/>
<line x1="1712.2" y1="820" x2="1730.8" y2="820" stroke-width="3.2"/>
<line x1="1712.2" y1="865" x2="1730.8" y2="865" stroke-width="3.2"/>
<circle cx="1685" cy="795.5" r="3.7" fill="#000"/>
<circle cx="1678.8" cy="803" r="3.7" fill="#000"/>
<circle cx="1691.3" cy="804.5" r="3.7" fill="#000"/>
<circle cx="1685" cy="819.5" r="3.7" fill="#000"/>
<circle cx="1721.5" cy="809.5" r="3.7" fill="#000"/>
<circle cx="1721.5" cy="844.5" r="3.7" fill="#000"/>
<circle cx="1715" cy="859.5" r="3.7" fill="#000"/>
<circle cx="1728" cy="856.3" r="3.7" fill="#000"/>
<line x1="1779.5" y1="831.3" x2="1779.5" y2="871.8" stroke-width="3.2"/>
<line x1="1770.2" y1="831.3" x2="1788.8" y2="831.3" stroke-width="3.2"/>
<line x1="1770.2" y1="871.8" x2="1788.8" y2="871.8" stroke-width="3.2"/>
<line x1="1815.8" y1="753.3" x2="1815.8" y2="835" stroke-width="3.2"/>
<line x1="1806.5" y1="753.3" x2="1825.1" y2="753.3" stroke-width="3.2"/>
<line x1="1806.5" y1="835" x2="1825.1" y2="835" stroke-width="3.2"/>
<circle cx="1779.5" cy="827.5" r="3.7" fill="#000"/>
<circle cx="1773.3" cy="849.5" r="3.7" fill="#000"/>
<circle cx="1785.8" cy="853" r="3.7" fill="#000"/>
<circle cx="1779.5" cy="876.3" r="3.7" fill="#000"/>
<circle cx="1815.8" cy="759.5" r="3.7" fill="#000"/>
<circle cx="1815.8" cy="770.8" r="3.7" fill="#000"/>
<circle cx="1815.8" cy="796.3" r="3.7" fill="#000"/>
<circle cx="1815.8" cy="851.3" r="3.7" fill="#000"/>
<line x1="1910.5" y1="920.8" x2="1910.5" y2="953.3" stroke-width="3.2"/>
<line x1="1901.2" y1="920.8" x2="1919.8" y2="920.8" stroke-width="3.2"/>
<line x1="1901.2" y1="953.3" x2="1919.8" y2="953.3" stroke-width="3.2"/>
<circle cx="1858.8" cy="956.3" r="3.7" fill="#000"/>
<circle cx="1869.3" cy="956.3" r="3.7" fill="#000"/>
<circle cx="1878.8" cy="956.3" r="3.7" fill="#000"/>
<circle cx="1888.8" cy="956.3" r="3.7" fill="#000"/>
<circle cx="1910.5" cy="916.3" r="3.7" fill="#000"/>
<circle cx="1910.5" cy="934.3" r="3.7" fill="#000"/>
<circle cx="1910.5" cy="942" r="3.7" fill="#000"/>
<circle cx="1910.5" cy="955.5" r="3.7" fill="#000"/>
<path d="M1779.8 758.8 V692.5 H1815.8 V722.5" fill="none" stroke-width="3.5"/>
<text x="1764.3" y="678" font-size="22" letter-spacing="-0.01">0.0099</text>
<rect x="166.85" y="1298.25" width="34.8" height="128.95" fill="#d3d3d3" stroke="#000" stroke-width="1.3"/>
<rect x="203.05" y="1341.95" width="34.9" height="85.25" fill="#00fa00" stroke="#000" stroke-width="1.5"/>
<rect x="261.2" y="1247.45" width="34.8" height="179.75" fill="#d3d3d3" stroke="#000" stroke-width="1.3"/>
<rect x="297.4" y="1198.25" width="34.9" height="228.95" fill="#00fa00" stroke="#000" stroke-width="1.5"/>
<rect x="355.55" y="1383.75" width="34.8" height="43.45" fill="#d3d3d3" stroke="#000" stroke-width="1.3"/>
<rect x="391.75" y="1384.95" width="34.9" height="42.25" fill="#00fa00" stroke="#000" stroke-width="1.5"/>
<rect x="449.9" y="1364.55" width="34.8" height="62.65" fill="#d3d3d3" stroke="#000" stroke-width="1.3"/>
<rect x="486.1" y="1378.45" width="34.9" height="48.75" fill="#00fa00" stroke="#000" stroke-width="1.5"/>
<rect x="544.25" y="1243.75" width="34.8" height="183.45" fill="#d3d3d3" stroke="#000" stroke-width="1.3"/>
<rect x="580.45" y="1228.45" width="34.9" height="198.75" fill="#00fa00" stroke="#000" stroke-width="1.5"/>
<rect x="638.6" y="1409.25" width="34.8" height="17.95" fill="#d3d3d3" stroke="#000" stroke-width="1.3"/>
<rect x="674.8" y="1412.25" width="34.9" height="14.95" fill="#00fa00" stroke="#000" stroke-width="1.5"/>
<line x1="147.5" y1="1105.95" x2="147.5" y2="1428.95" stroke-width="3.5"/>
<line x1="137.9" y1="1427.2" x2="730" y2="1427.2" stroke-width="3.5"/>
<line x1="137.9" y1="1427.2" x2="147.5" y2="1427.2" stroke-width="3.5"/>
<line x1="137.9" y1="1363.3" x2="147.5" y2="1363.3" stroke-width="3.5"/>
<line x1="137.9" y1="1299.4" x2="147.5" y2="1299.4" stroke-width="3.5"/>
<line x1="137.9" y1="1235.5" x2="147.5" y2="1235.5" stroke-width="3.5"/>
<line x1="137.9" y1="1171.6" x2="147.5" y2="1171.6" stroke-width="3.5"/>
<line x1="137.9" y1="1107.7" x2="147.5" y2="1107.7" stroke-width="3.5"/>
<text x="114.5" y="1439.91" font-size="35.5">0</text>
<text x="94.76" y="1376.01" font-size="35.5">10</text>
<text x="94.76" y="1312.11" font-size="35.5">20</text>
<text x="94.76" y="1248.21" font-size="35.5">30</text>
<text x="94.76" y="1184.31" font-size="35.5">40</text>
<text x="94.76" y="1120.41" font-size="35.5">50</text>
<text x="77" y="1311.35" font-size="40.4" letter-spacing="-0.98" transform="rotate(-90 77 1311.35)">Mol%</text>
<line x1="202.3" y1="1427.2" x2="202.3" y2="1437" stroke-width="3.5"/>
<text x="160.4" y="1468.9" font-size="31.3" letter-spacing="-0.48">C14:0</text>
<line x1="296.65" y1="1427.2" x2="296.65" y2="1437" stroke-width="3.5"/>
<text x="254.75" y="1468.9" font-size="31.3" letter-spacing="-0.48">C16:0</text>
<line x1="391" y1="1427.2" x2="391" y2="1437" stroke-width="3.5"/>
<text x="349.1" y="1468.9" font-size="31.3" letter-spacing="-0.88">C16:1</text>
<line x1="485.35" y1="1427.2" x2="485.35" y2="1437" stroke-width="3.5"/>
<text x="443.45" y="1468.9" font-size="31.3" letter-spacing="-0.48">C18:0</text>
<line x1="579.7" y1="1427.2" x2="579.7" y2="1437" stroke-width="3.5"/>
<text x="537.8" y="1468.9" font-size="31.3" letter-spacing="-0.88">C18:1</text>
<line x1="674.05" y1="1427.2" x2="674.05" y2="1437" stroke-width="3.5"/>
<text x="632.15" y="1468.9" font-size="31.3" letter-spacing="-0.88">C20:1</text>
<text x="416.5" y="1116.3" font-size="28.8">DAG</text>
<line x1="183.8" y1="1283" x2="183.8" y2="1311.3" stroke-width="3.2"/>
<line x1="174.5" y1="1283" x2="193.1" y2="1283" stroke-width="3.2"/>
<line x1="174.5" y1="1311.3" x2="193.1" y2="1311.3" stroke-width="3.2"/>
<line x1="220" y1="1335.8" x2="220" y2="1346.8" stroke-width="3.2"/>
<line x1="210.7" y1="1335.8" x2="229.3" y2="1335.8" stroke-width="3.2"/>
<line x1="210.7" y1="1346.8" x2="229.3" y2="1346.8" stroke-width="3.2"/>
<circle cx="183.8" cy="1284.5" r="3.7" fill="#000"/>
<circle cx="177.5" cy="1293" r="3.7" fill="#000"/>
<circle cx="190.5" cy="1297.5" r="3.7" fill="#000"/>
<circle cx="183.8" cy="1317.5" r="3.7" fill="#000"/>
<circle cx="205.5" cy="1335.8" r="3.7" fill="#000"/>
<circle cx="220" cy="1340" r="3.7" fill="#000"/>
<circle cx="235" cy="1340.5" r="3.7" fill="#000"/>
<circle cx="220" cy="1349.3" r="3.7" fill="#000"/>
<line x1="278.3" y1="1235" x2="278.3" y2="1258" stroke-width="3.2"/>
<line x1="269" y1="1235" x2="287.6" y2="1235" stroke-width="3.2"/>
<line x1="269" y1="1258" x2="287.6" y2="1258" stroke-width="3.2"/>
<line x1="314.5" y1="1181.3" x2="314.5" y2="1214.3" stroke-width="3.2"/>
<line x1="305.2" y1="1181.3" x2="323.8" y2="1181.3" stroke-width="3.2"/>
<line x1="305.2" y1="1214.3" x2="323.8" y2="1214.3" stroke-width="3.2"/>
<circle cx="271.8" cy="1238.8" r="3.7" fill="#000"/>
<circle cx="284.5" cy="1235" r="3.7" fill="#000"/>
<circle cx="278.3" cy="1251.3" r="3.7" fill="#000"/>
<circle cx="278.3" cy="1260.5" r="3.7" fill="#000"/>
<circle cx="308.3" cy="1183.8" r="3.7" fill="#000"/>
<circle cx="321.3" cy="1182" r="3.7" fill="#000"/>
<circle cx="320.8" cy="1208" r="3.7" fill="#000"/>
<circle cx="308" cy="1214.3" r="3.7" fill="#000"/>
<line x1="372.5" y1="1372.5" x2="372.5" y2="1393" stroke-width="3.2"/>
<line x1="363.2" y1="1372.5" x2="381.8" y2="1372.5" stroke-width="3.2"/>
<line x1="363.2" y1="1393" x2="381.8" y2="1393" stroke-width="3.2"/>
<line x1="408.8" y1="1377.5" x2="408.8" y2="1390.5" stroke-width="3.2"/>
<line x1="399.5" y1="1377.5" x2="418.1" y2="1377.5" stroke-width="3.2"/>
<line x1="399.5" y1="1390.5" x2="418.1" y2="1390.5" stroke-width="3.2"/>
<circle cx="372.5" cy="1370.8" r="3.7" fill="#000"/>
<circle cx="366.3" cy="1382" r="3.7" fill="#000"/>
<circle cx="378.8" cy="1383" r="3.7" fill="#000"/>
<circle cx="372.5" cy="1396.3" r="3.7" fill="#000"/>
<circle cx="415.5" cy="1375.5" r="3.7" fill="#000"/>
<circle cx="402.5" cy="1381.3" r="3.7" fill="#000"/>
<circle cx="402.5" cy="1391.3" r="3.7" fill="#000"/>
<circle cx="415" cy="1390" r="3.7" fill="#000"/>
<line x1="467" y1="1354.4" x2="467" y2="1373.6" stroke-width="3.2"/>
<line x1="457.7" y1="1354.4" x2="476.3" y2="1354.4" stroke-width="3.2"/>
<line x1="457.7" y1="1373.6" x2="476.3" y2="1373.6" stroke-width="3.2"/>
<line x1="503.3" y1="1366.8" x2="503.3" y2="1388" stroke-width="3.2"/>
<line x1="494" y1="1366.8" x2="512.6" y2="1366.8" stroke-width="3.2"/>
<line x1="494" y1="1388" x2="512.6" y2="1388" stroke-width="3.2"/>
<circle cx="467" cy="1349.7" r="3.7" fill="#000"/>
<circle cx="452.3" cy="1369.5" r="3.7" fill="#000"/>
<circle cx="467" cy="1368" r="3.7" fill="#000"/>
<circle cx="482" cy="1369.5" r="3.7" fill="#000"/>
<circle cx="503.3" cy="1361.8" r="3.7" fill="#000"/>
<circle cx="503.3" cy="1378" r="3.7" fill="#000"/>
<circle cx="496.8" cy="1385.5" r="3.7" fill="#000"/>
<circle cx="510" cy="1385.5" r="3.7" fill="#000"/>
<line x1="561.3" y1="1224.3" x2="561.3" y2="1262.3" stroke-width="3.2"/>
<line x1="552" y1="1224.3" x2="570.6" y2="1224.3" stroke-width="3.2"/>
<line x1="552" y1="1262.3" x2="570.6" y2="1262.3" stroke-width="3.2"/>
<line x1="597.5" y1="1213.5" x2="597.5" y2="1241.3" stroke-width="3.2"/>
<line x1="588.2" y1="1213.5" x2="606.8" y2="1213.5" stroke-width="3.2"/>
<line x1="588.2" y1="1241.3" x2="606.8" y2="1241.3" stroke-width="3.2"/>
<circle cx="561.3" cy="1220" r="3.7" fill="#000"/>
<circle cx="555" cy="1241" r="3.7" fill="#000"/>
<circle cx="568" cy="1243.8" r="3.7" fill="#000"/>
<circle cx="561.3" cy="1267.5" r="3.7" fill="#000"/>
<circle cx="597.5" cy="1211" r="3.7" fill="#000"/>
<circle cx="597.5" cy="1220" r="3.7" fill="#000"/>
<circle cx="591.3" cy="1240" r="3.7" fill="#000"/>
<circle cx="603.8" cy="1238.8" r="3.7" fill="#000"/>
<line x1="655.8" y1="1406.3" x2="655.8" y2="1413" stroke-width="3.2"/>
<line x1="646.5" y1="1406.3" x2="665.1" y2="1406.3" stroke-width="3.2"/>
<line x1="646.5" y1="1413" x2="665.1" y2="1413" stroke-width="3.2"/>
<line x1="692" y1="1408.5" x2="692" y2="1414.8" stroke-width="3.2"/>
<line x1="682.7" y1="1408.5" x2="701.3" y2="1408.5" stroke-width="3.2"/>
<line x1="682.7" y1="1414.8" x2="701.3" y2="1414.8" stroke-width="3.2"/>
<circle cx="640.8" cy="1404.8" r="3.7" fill="#000"/>
<circle cx="640.8" cy="1412.3" r="3.7" fill="#000"/>
<circle cx="661.3" cy="1411.8" r="3.7" fill="#000"/>
<circle cx="670" cy="1408.8" r="3.7" fill="#000"/>
<circle cx="677" cy="1414.3" r="3.7" fill="#000"/>
<circle cx="707" cy="1406.3" r="3.7" fill="#000"/>
<circle cx="707" cy="1413.8" r="3.7" fill="#000"/>
<circle cx="692" cy="1412" r="3.7" fill="#000"/>
<path d="M183.8 1257 V1228 H220 V1300.8" fill="none" stroke-width="3.5"/>
<text x="163.15" y="1213.8" font-size="22" letter-spacing="-0.4">&lt;0.0001</text>
<path d="M278.2 1202.5 V1135.5 H314.5 V1157.5" fill="none" stroke-width="3.5"/>
<text x="257.6" y="1121.8" font-size="22" letter-spacing="-0.4">&lt;0.0001</text>
<rect x="861.65" y="1391.95" width="34.8" height="33.55" fill="#d3d3d3" stroke="#000" stroke-width="1.3"/>
<rect x="897.85" y="1396.25" width="34.9" height="29.25" fill="#00fa00" stroke="#000" stroke-width="1.5"/>
<rect x="955.95" y="1234.45" width="34.8" height="191.05" fill="#d3d3d3" stroke="#000" stroke-width="1.3"/>
<rect x="992.15" y="1215.75" width="34.9" height="209.75" fill="#00fa00" stroke="#000" stroke-width="1.5"/>
<rect x="1050.25" y="1398.25" width="34.8" height="27.25" fill="#d3d3d3" stroke="#000" stroke-width="1.3"/>
<rect x="1086.45" y="1399.25" width="34.9" height="26.25" fill="#00fa00" stroke="#000" stroke-width="1.5"/>
<rect x="1144.55" y="1287.95" width="34.8" height="137.55" fill="#d3d3d3" stroke="#000" stroke-width="1.3"/>
<rect x="1180.75" y="1284.25" width="34.9" height="141.25" fill="#00fa00" stroke="#000" stroke-width="1.5"/>
<rect x="1238.85" y="1240.45" width="34.8" height="185.05" fill="#d3d3d3" stroke="#000" stroke-width="1.3"/>
<rect x="1275.05" y="1257.45" width="34.9" height="168.05" fill="#00fa00" stroke="#000" stroke-width="1.5"/>
<rect x="1333.15" y="1397.95" width="34.8" height="27.55" fill="#d3d3d3" stroke="#000" stroke-width="1.3"/>
<rect x="1369.35" y="1397.95" width="34.9" height="27.55" fill="#00fa00" stroke="#000" stroke-width="1.5"/>
<line x1="843.1" y1="1105" x2="843.1" y2="1427.25" stroke-width="3.5"/>
<line x1="833.5" y1="1425.5" x2="1425" y2="1425.5" stroke-width="3.5"/>
<line x1="833.5" y1="1425.5" x2="843.1" y2="1425.5" stroke-width="3.5"/>
<line x1="833.5" y1="1361.75" x2="843.1" y2="1361.75" stroke-width="3.5"/>
<line x1="833.5" y1="1298" x2="843.1" y2="1298" stroke-width="3.5"/>
<line x1="833.5" y1="1234.25" x2="843.1" y2="1234.25" stroke-width="3.5"/>
<line x1="833.5" y1="1170.5" x2="843.1" y2="1170.5" stroke-width="3.5"/>
<line x1="833.5" y1="1106.75" x2="843.1" y2="1106.75" stroke-width="3.5"/>
<text x="810.1" y="1438.21" font-size="35.5">0</text>
<text x="790.36" y="1374.46" font-size="35.5">10</text>
<text x="790.36" y="1310.71" font-size="35.5">20</text>
<text x="790.36" y="1246.96" font-size="35.5">30</text>
<text x="790.36" y="1183.21" font-size="35.5">40</text>
<text x="790.36" y="1119.46" font-size="35.5">50</text>
<text x="772.3" y="1310.02" font-size="40.4" letter-spacing="-0.98" transform="rotate(-90 772.3 1310.02)">Mol%</text>
<line x1="897.1" y1="1425.5" x2="897.1" y2="1435.3" stroke-width="3.5"/>
<text x="855.2" y="1466.9" font-size="31.3" letter-spacing="-0.48">C14:0</text>
<line x1="991.4" y1="1425.5" x2="991.4" y2="1435.3" stroke-width="3.5"/>
<text x="949.5" y="1466.9" font-size="31.3" letter-spacing="-0.48">C16:0</text>
<line x1="1085.7" y1="1425.5" x2="1085.7" y2="1435.3" stroke-width="3.5"/>
<text x="1043.8" y="1466.9" font-size="31.3" letter-spacing="-0.88">C16:1</text>
<line x1="1180" y1="1425.5" x2="1180" y2="1435.3" stroke-width="3.5"/>
<text x="1138.1" y="1466.9" font-size="31.3" letter-spacing="-0.48">C18:0</text>
<line x1="1274.3" y1="1425.5" x2="1274.3" y2="1435.3" stroke-width="3.5"/>
<text x="1232.4" y="1466.9" font-size="31.3" letter-spacing="-0.88">C18:1</text>
<line x1="1368.6" y1="1425.5" x2="1368.6" y2="1435.3" stroke-width="3.5"/>
<text x="1326.7" y="1466.9" font-size="31.3" letter-spacing="-0.88">C20:1</text>
<text x="1119.4" y="1113.8" font-size="28.8">PL</text>
<line x1="879.5" y1="1388" x2="879.5" y2="1393.8" stroke-width="3.2"/>
<line x1="870.2" y1="1388" x2="888.8" y2="1388" stroke-width="3.2"/>
<line x1="870.2" y1="1393.8" x2="888.8" y2="1393.8" stroke-width="3.2"/>
<line x1="915.5" y1="1393.8" x2="915.5" y2="1398" stroke-width="3.2"/>
<line x1="906.2" y1="1393.8" x2="924.8" y2="1393.8" stroke-width="3.2"/>
<line x1="906.2" y1="1398" x2="924.8" y2="1398" stroke-width="3.2"/>
<circle cx="863.8" cy="1392" r="3.7" fill="#000"/>
<circle cx="874.5" cy="1387.5" r="3.7" fill="#000"/>
<circle cx="884.5" cy="1391.8" r="3.7" fill="#000"/>
<circle cx="894.5" cy="1390.8" r="3.7" fill="#000"/>
<circle cx="900.5" cy="1397" r="3.7" fill="#000"/>
<circle cx="910.5" cy="1393.8" r="3.7" fill="#000"/>
<circle cx="920" cy="1396.3" r="3.7" fill="#000"/>
<circle cx="930.5" cy="1395" r="3.7" fill="#000"/>
<line x1="973.3" y1="1215.5" x2="973.3" y2="1252" stroke-width="3.2"/>
<line x1="964" y1="1215.5" x2="982.6" y2="1215.5" stroke-width="3.2"/>
<line x1="964" y1="1252" x2="982.6" y2="1252" stroke-width="3.2"/>
<line x1="1009.5" y1="1200.8" x2="1009.5" y2="1230" stroke-width="3.2"/>
<line x1="1000.2" y1="1200.8" x2="1018.8" y2="1200.8" stroke-width="3.2"/>
<line x1="1000.2" y1="1230" x2="1018.8" y2="1230" stroke-width="3.2"/>
<circle cx="973.3" cy="1208" r="3.7" fill="#000"/>
<circle cx="973.3" cy="1233.8" r="3.7" fill="#000"/>
<circle cx="967" cy="1249.3" r="3.7" fill="#000"/>
<circle cx="979.5" cy="1246.3" r="3.7" fill="#000"/>
<circle cx="1003.3" cy="1204.5" r="3.7" fill="#000"/>
<circle cx="1016.3" cy="1203.8" r="3.7" fill="#000"/>
<circle cx="1009.5" cy="1217" r="3.7" fill="#000"/>
<circle cx="1009.5" cy="1236.3" r="3.7" fill="#000"/>
<line x1="1067.5" y1="1391.3" x2="1067.5" y2="1404.5" stroke-width="3.2"/>
<line x1="1058.2" y1="1391.3" x2="1076.8" y2="1391.3" stroke-width="3.2"/>
<line x1="1058.2" y1="1404.5" x2="1076.8" y2="1404.5" stroke-width="3.2"/>
<line x1="1104.3" y1="1393" x2="1104.3" y2="1404.5" stroke-width="3.2"/>
<line x1="1095" y1="1393" x2="1113.6" y2="1393" stroke-width="3.2"/>
<line x1="1095" y1="1404.5" x2="1113.6" y2="1404.5" stroke-width="3.2"/>
<circle cx="1073.8" cy="1390" r="3.7" fill="#000"/>
<circle cx="1061.3" cy="1396.3" r="3.7" fill="#000"/>
<circle cx="1073.8" cy="1396.3" r="3.7" fill="#000"/>
<circle cx="1061.3" cy="1405.5" r="3.7" fill="#000"/>
<circle cx="1104.3" cy="1390.5" r="3.7" fill="#000"/>
<circle cx="1104.3" cy="1397.5" r="3.7" fill="#000"/>
<circle cx="1089.5" cy="1403" r="3.7" fill="#000"/>
<circle cx="1119.3" cy="1402.5" r="3.7" fill="#000"/>
<line x1="1162" y1="1273" x2="1162" y2="1302" stroke-width="3.2"/>
<line x1="1152.7" y1="1273" x2="1171.3" y2="1273" stroke-width="3.2"/>
<line x1="1152.7" y1="1302" x2="1171.3" y2="1302" stroke-width="3.2"/>
<line x1="1198.3" y1="1266.8" x2="1198.3" y2="1300.5" stroke-width="3.2"/>
<line x1="1189" y1="1266.8" x2="1207.6" y2="1266.8" stroke-width="3.2"/>
<line x1="1189" y1="1300.5" x2="1207.6" y2="1300.5" stroke-width="3.2"/>
<circle cx="1162" cy="1269.4" r="3.7" fill="#000"/>
<circle cx="1162" cy="1284" r="3.7" fill="#000"/>
<circle cx="1162" cy="1294" r="3.7" fill="#000"/>
<circle cx="1162" cy="1303" r="3.7" fill="#000"/>
<circle cx="1198.3" cy="1262.5" r="3.7" fill="#000"/>
<circle cx="1192" cy="1282.3" r="3.7" fill="#000"/>
<circle cx="1204.5" cy="1285.5" r="3.7" fill="#000"/>
<circle cx="1198.3" cy="1303.8" r="3.7" fill="#000"/>
<line x1="1256.3" y1="1205.5" x2="1256.3" y2="1275" stroke-width="3.2"/>
<line x1="1247" y1="1205.5" x2="1265.6" y2="1205.5" stroke-width="3.2"/>
<line x1="1247" y1="1275" x2="1265.6" y2="1275" stroke-width="3.2"/>
<line x1="1292.5" y1="1241" x2="1292.5" y2="1273.5" stroke-width="3.2"/>
<line x1="1283.2" y1="1241" x2="1301.8" y2="1241" stroke-width="3.2"/>
<line x1="1283.2" y1="1273.5" x2="1301.8" y2="1273.5" stroke-width="3.2"/>
<circle cx="1256.3" cy="1195" r="3.7" fill="#000"/>
<circle cx="1256.3" cy="1238" r="3.7" fill="#000"/>
<circle cx="1256.3" cy="1252.3" r="3.7" fill="#000"/>
<circle cx="1256.3" cy="1278.5" r="3.7" fill="#000"/>
<circle cx="1292.5" cy="1235.5" r="3.7" fill="#000"/>
<circle cx="1286.3" cy="1258.5" r="3.7" fill="#000"/>
<circle cx="1298.8" cy="1261" r="3.7" fill="#000"/>
<circle cx="1292.5" cy="1274.3" r="3.7" fill="#000"/>
<line x1="1350.8" y1="1393.5" x2="1350.8" y2="1400.5" stroke-width="3.2"/>
<line x1="1341.5" y1="1393.5" x2="1360.1" y2="1393.5" stroke-width="3.2"/>
<line x1="1341.5" y1="1400.5" x2="1360.1" y2="1400.5" stroke-width="3.2"/>
<line x1="1386.8" y1="1395.5" x2="1386.8" y2="1399.3" stroke-width="3.2"/>
<line x1="1377.5" y1="1395.5" x2="1396.1" y2="1395.5" stroke-width="3.2"/>
<line x1="1377.5" y1="1399.3" x2="1396.1" y2="1399.3" stroke-width="3.2"/>
<circle cx="1335.8" cy="1394.3" r="3.7" fill="#000"/>
<circle cx="1335.8" cy="1401.8" r="3.7" fill="#000"/>
<circle cx="1365.5" cy="1397.5" r="3.7" fill="#000"/>
<circle cx="1350.8" cy="1397" r="3.7" fill="#000"/>
<circle cx="1372" cy="1399.8" r="3.7" fill="#000"/>
<circle cx="1382" cy="1395.5" r="3.7" fill="#000"/>
<circle cx="1392" cy="1398.5" r="3.7" fill="#000"/>
<circle cx="1401.8" cy="1396.3" r="3.7" fill="#000"/>
<rect x="1638.9" y="1246.3" width="68.8" height="179.3" fill="#d3d3d3" stroke="#000" stroke-width="1.6"/>
<rect x="1723.9" y="1247.5" width="68.4" height="178.1" fill="#d3d3d3" stroke="#000" stroke-width="1.6"/>
<rect x="1808.9" y="1372.1" width="68.4" height="53.5" fill="#d3d3d3" stroke="#000" stroke-width="1.6"/>
<rect x="1893.9" y="1382.1" width="68.1" height="43.5" fill="#d3d3d3" stroke="#000" stroke-width="1.6"/>
<line x1="1603.5" y1="1107.75" x2="1603.5" y2="1427.25" stroke-width="3.3"/>
<line x1="1590" y1="1425.6" x2="2000" y2="1425.6" stroke-width="3.3"/>
<line x1="1590" y1="1425.6" x2="1603.5" y2="1425.6" stroke-width="3.3"/>
<line x1="1590" y1="1393.98" x2="1603.5" y2="1393.98" stroke-width="3.3"/>
<line x1="1590" y1="1267.5" x2="1603.5" y2="1267.5" stroke-width="3.3"/>
<line x1="1590" y1="1109.4" x2="1603.5" y2="1109.4" stroke-width="3.3"/>
<line x1="1596" y1="1362.36" x2="1603.5" y2="1362.36" stroke-width="3.3"/>
<line x1="1596" y1="1330.74" x2="1603.5" y2="1330.74" stroke-width="3.3"/>
<line x1="1596" y1="1299.12" x2="1603.5" y2="1299.12" stroke-width="3.3"/>
<line x1="1596" y1="1235.88" x2="1603.5" y2="1235.88" stroke-width="3.3"/>
<line x1="1596" y1="1204.26" x2="1603.5" y2="1204.26" stroke-width="3.3"/>
<line x1="1596" y1="1172.64" x2="1603.5" y2="1172.64" stroke-width="3.3"/>
<line x1="1596" y1="1141.02" x2="1603.5" y2="1141.02" stroke-width="3.3"/>
<text x="1543.53" y="1121.93" font-size="35">10</text>
<text x="1563" y="1280.03" font-size="35">5</text>
<text x="1563" y="1439.73" font-size="35">0</text>
<text x="1559.1" y="1405.6" font-size="35">1</text>
<line x1="1673.7" y1="1425.6" x2="1673.7" y2="1438.9" stroke-width="3.3"/>
<line x1="1758.1" y1="1425.6" x2="1758.1" y2="1438.9" stroke-width="3.3"/>
<line x1="1843.1" y1="1425.6" x2="1843.1" y2="1438.9" stroke-width="3.3"/>
<line x1="1928" y1="1425.6" x2="1928" y2="1438.9" stroke-width="3.3"/>
<text x="1643.1" y="1469.4" font-size="30.6" letter-spacing="-0.74">TAG</text>
<text x="1728.5" y="1469.4" font-size="30.6" letter-spacing="-0.64">FFA</text>
<text x="1809.25" y="1469.4" font-size="30.6" letter-spacing="0.53">DAG</text>
<text x="1909.25" y="1469.4" font-size="30.6" letter-spacing="-0.76">PL</text>
<line x1="1605.1" y1="1394" x2="1989" y2="1394" stroke-width="3.2" stroke-dasharray="6.2 9.6" stroke-linecap="round"/>
<line x1="1673.5" y1="1213" x2="1673.5" y2="1278" stroke-width="3.4"/>
<line x1="1656" y1="1213" x2="1691" y2="1213" stroke-width="3.4"/>
<line x1="1656" y1="1278" x2="1691" y2="1278" stroke-width="3.4"/>
<line x1="1758.1" y1="1142.3" x2="1758.1" y2="1351" stroke-width="3.4"/>
<line x1="1740.6" y1="1142.3" x2="1775.6" y2="1142.3" stroke-width="3.4"/>
<line x1="1740.6" y1="1351" x2="1775.6" y2="1351" stroke-width="3.4"/>
<line x1="1843.1" y1="1345.5" x2="1843.1" y2="1397" stroke-width="3.4"/>
<line x1="1825.6" y1="1345.5" x2="1860.6" y2="1345.5" stroke-width="3.4"/>
<line x1="1825.6" y1="1397" x2="1860.6" y2="1397" stroke-width="3.4"/>
<line x1="1927.7" y1="1366.5" x2="1927.7" y2="1394.8" stroke-width="3.4"/>
<line x1="1910.2" y1="1366.5" x2="1945.2" y2="1366.5" stroke-width="3.4"/>
<line x1="1910.2" y1="1394.8" x2="1945.2" y2="1394.8" stroke-width="3.4"/>
<circle cx="1673.5" cy="1211" r="3.7" fill="#000"/>
<circle cx="1673.5" cy="1226" r="3.7" fill="#000"/>
<circle cx="1673.5" cy="1264.8" r="3.7" fill="#000"/>
<circle cx="1673.5" cy="1281.3" r="3.7" fill="#000"/>
<circle cx="1758.1" cy="1223" r="3.7" fill="#000"/>
<circle cx="1758.1" cy="1318" r="3.7" fill="#000"/>
<circle cx="1758.1" cy="1336.8" r="3.7" fill="#000"/>
<circle cx="1843.1" cy="1342.6" r="3.7" fill="#000"/>
<circle cx="1843.1" cy="1363.9" r="3.7" fill="#000"/>
<circle cx="1843.1" cy="1372.6" r="3.7" fill="#000"/>
<circle cx="1843.1" cy="1405.1" r="3.7" fill="#000"/>
<circle cx="1921.3" cy="1369.8" r="3.7" fill="#000"/>
<circle cx="1934" cy="1368.9" r="3.7" fill="#000"/>
<circle cx="1927.5" cy="1388" r="3.7" fill="#000"/>
<circle cx="1927.5" cy="1397.6" r="3.7" fill="#000"/>
<line x1="1647" y1="1192" x2="1700" y2="1192" stroke-width="3.3"/>
<text x="1640.5" y="1178.3" font-size="22" letter-spacing="-0.25">0.0028</text>
<text x="1641" y="1097.5" font-size="28.5" letter-spacing="0.55">From scavenging 72 h</text>
<text x="1494" y="1424.7" font-size="35" class="k" letter-spacing="-0.08" transform="rotate(-90 1494 1424.7)">Relative abundance</text>
<text x="1534" y="1342" font-size="35" class="k" letter-spacing="-0.23" transform="rotate(-90 1534 1342)">+ATc/-ATc</text>
</svg>
</body>
</html>
